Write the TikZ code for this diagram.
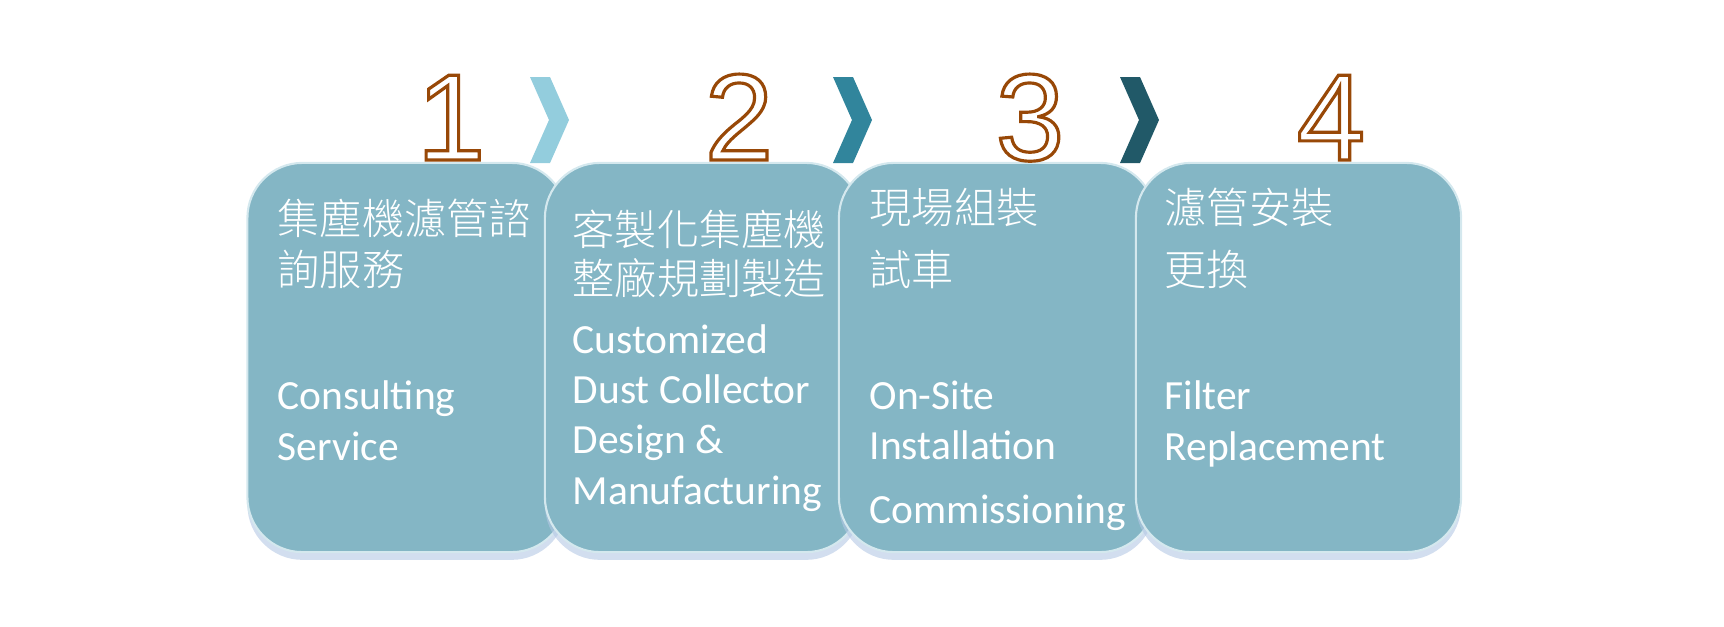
\documentclass[tikz,border=0pt]{standalone}
\usepackage{fontspec}
\setmainfont{Carlito}
\newfontfamily\cjkfont{Noto Sans CJK TC Light}
\newfontfamily\digitfont{Liberation Sans}
\usetikzlibrary{positioning, shadows}
\definecolor{cardblue}{HTML}{84B6C5}
\definecolor{cardedge}{HTML}{D4E8EE}
\definecolor{cardshadow}{HTML}{B4C8E4}
\definecolor{chevlight}{HTML}{93CDDD}
\definecolor{chevmid}{HTML}{31859C}
\definecolor{chevdark}{HTML}{215968}
\definecolor{digitbrown}{HTML}{984807}
\tikzset{
	stepcard/.style={draw=cardedge, line width=0.6pt, fill=cardblue, rounded corners=0.55cm,
		minimum height=3.89cm, inner sep=0pt,
		drop shadow={shadow xshift=0pt, shadow yshift=-2.2pt, fill=cardshadow, opacity=0.6}},
	zhtext/.style={anchor=base west, inner sep=0pt, align=left, text=white,
		font=\cjkfont\fontsize{12}{14.5}\selectfont},
	entext/.style={anchor=base west, inner sep=0pt, align=left, text=white,
		font=\fontsize{11.8}{14.3}\selectfont},
	stepnum/.style={anchor=base, inner sep=0pt, text=white,
		font=\digitfont\fontsize{35}{35}\selectfont}
}
\newcommand{\outlinedigit}[1]{\special{pdf:literal direct 0.596 0.282 0.027 RG 2 Tr 0.9 w}#1\special{pdf:literal direct 0 Tr}}
\begin{document}
\begin{tikzpicture}[x=0.01cm, y=-0.01cm]
	\path[use as bounding box] (0,0) rectangle (1724,626);
	\foreach \cx/\col in {530/chevlight, 833/chevmid, 1120/chevdark}
		\fill[\col] (\cx,77) -- ++(20,0) -- ++(19,43) -- ++(-19,43) -- ++(-20,0) -- ++(19,-43) -- cycle;
	\node[stepcard, minimum width=3.19cm] (card1) at (407,357.5) {};
	\node[stepcard, minimum width=3.16cm] (card2) at (703,357.5) {};
	\node[stepcard, minimum width=3.16cm] (card3) at (997,357.5) {};
	\node[stepcard, minimum width=3.25cm] (card4) at (1298.5,357.5) {};
	\node[stepnum] (num1) at (451,160) {\outlinedigit{1}};
	\node[stepnum] (num2) at (739,160) {\outlinedigit{2}};
	\node[stepnum] (num3) at (1030,160) {\outlinedigit{3}};
	\node[stepnum] (num4) at (1331,160) {\outlinedigit{4}};
	\node[zhtext] (zh1) at (277,285) {集塵機濾管諮\\詢服務};
	\node[zhtext, font=\cjkfont\fontsize{12}{13.9}\selectfont] (zh2) at (572,294) {客製化集塵機\\整廠規劃製造};
	\node[zhtext, font=\cjkfont\fontsize{12}{17.4}\selectfont] (zh3) at (869,285) {現場組裝\\試車};
	\node[zhtext, font=\cjkfont\fontsize{12}{17.4}\selectfont] (zh4) at (1164,285) {濾管安裝\\更換};
	\node[entext, font=\fontsize{11.8}{14.5}\selectfont] (en1) at (277,460) {Consulting\\Service};
	\node[entext] (en2) at (572,504) {Customized\\Dust Collector\\Design \&\\Manufacturing};
	\node[entext] (en3) at (869,523) {On-Site\\Installation\\[3.7pt]Commissioning};
	\node[entext] (en4) at (1164,460) {Filter\\Replacement};
\end{tikzpicture}
\end{document}
